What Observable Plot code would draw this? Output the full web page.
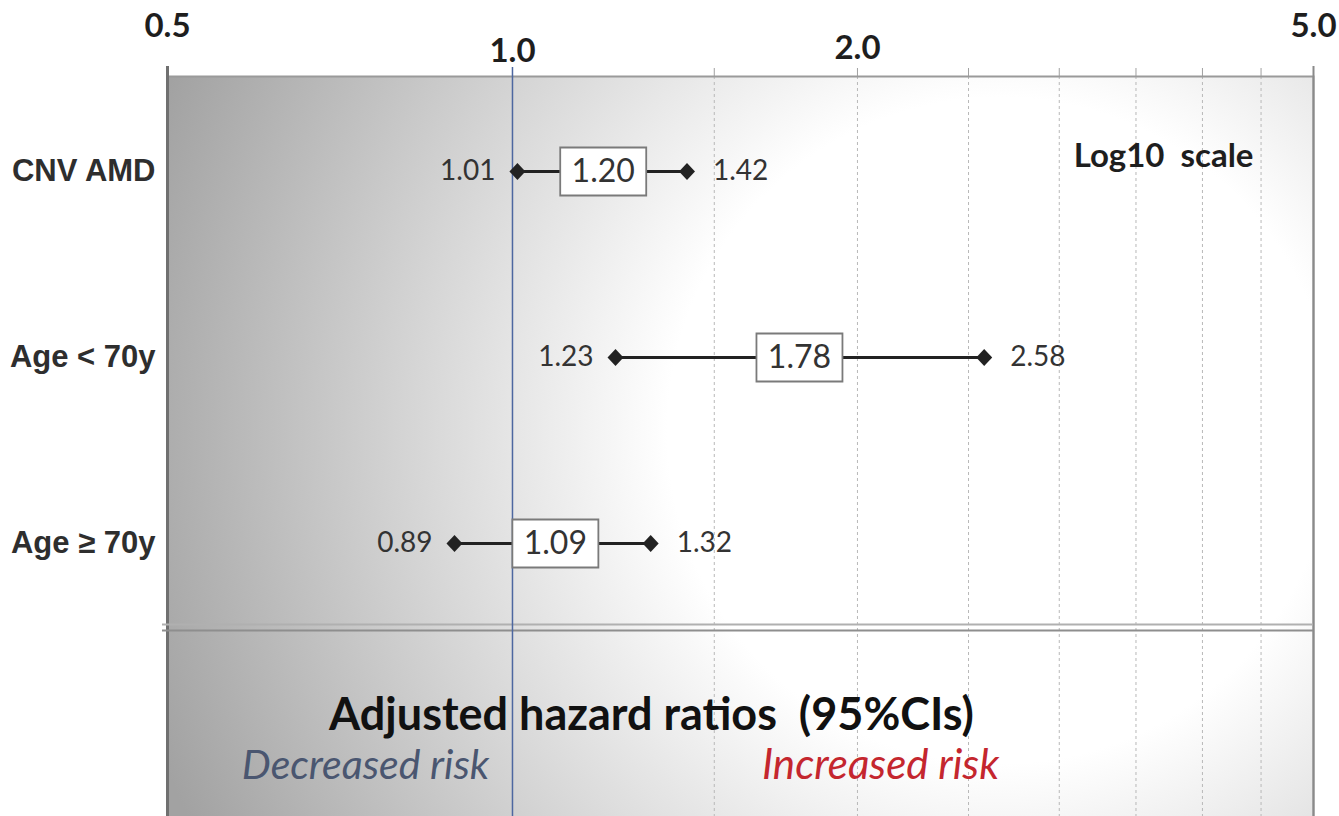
<!DOCTYPE html>
<html><head><meta charset="utf-8">
<script src="https://cdn.jsdelivr.net/npm/d3@7"></script>
<script src="https://cdn.jsdelivr.net/npm/@observablehq/plot@0.6"></script>
<style>
body{margin:0;background:#fff;}
svg text{white-space:pre;}
</style>
</head><body><div id="chart"></div>
<script>
// ---- data ----
const categories = ["CNV AMD", "Age < 70y", "Age ≥ 70y"];
const hazardRatios = [1.20, 1.78, 1.09];
const lowerCI = [1.01, 1.23, 0.89];
const upperCI = [1.42, 2.58, 1.32];
const tickValues = [0.5, 1.0, 2.0, 5.0];
const tickLabels = ["0.5", "1.0", "2.0", "5.0"];
const gridValues = [1.5, 2, 2.5, 3, 3.5, 4, 4.5];
const scaleNote = "Log10  scale";
const titleText = "Adjusted hazard ratios  (95%CIs)";
const leftNote = "Decreased risk";
const rightNote = "Increased risk";

const rows = categories.map((c, i) => ({cat: c, hr: hazardRatios[i], lo: lowerCI[i], hi: upperCI[i]}));
const ticks = tickValues.map((v, i) => ({v, label: tickLabels[i]}));

const calibri = "Lato, 'Open Sans', sans-serif";
const arial = "'Liberation Sans', Arial, sans-serif";
const boxSymbol = {
  draw(ctx) {
    ctx.moveTo(-43, -24); ctx.lineTo(43, -24); ctx.lineTo(43, 24); ctx.lineTo(-43, 24); ctx.closePath();
  }
};
const diamondSymbol = {
  draw(ctx) {
    ctx.moveTo(0, -8.5); ctx.lineTo(8, 0); ctx.lineTo(0, 8.5); ctx.lineTo(-8, 0); ctx.closePath();
  }
};
const tickDy = {"0.5": -50, "1.0": -25, "2.0": -28, "5.0": -50};

const plot = Plot.plot({
  width: 1339, height: 816,
  marginLeft: 167, marginRight: 26, marginTop: 76, marginBottom: 0,
  style: {background: "transparent", overflow: "visible"},
  x: {type: "log", domain: [0.5, 5]},
  y: {type: "point", domain: categories, range: [170, 543], padding: 0},
  marks: [
    Plot.frame({fill: "url(#bg)", stroke: "none"}),
    Plot.ruleX(gridValues, {stroke: "#b8b8b8", strokeDasharray: "3,3", strokeWidth: 1}),
    Plot.axisX({anchor: "top", ticks: gridValues.concat([0.5, 5]), tickSize: 9, tickFormat: () => "", stroke: "#a0a0a0", label: null}),
    Plot.frame({stroke: "#9a9a9a", strokeWidth: 2, insetBottom: -6}),
    Plot.ruleX([0.5], {stroke: "#707070", strokeWidth: 3, insetTop: -10}),
    Plot.ruleX([5], {stroke: "#8a8a8a", strokeWidth: 2, insetTop: -10}),
    Plot.ruleY([categories[2]], {dy: 81, stroke: "#b0b0b0", strokeWidth: 2, insetLeft: -5}),
    Plot.ruleY([categories[2]], {dy: 87, stroke: "#8e8e8e", strokeWidth: 2, insetLeft: -5}),
    Plot.ruleX([1], {stroke: "#4d67a0", strokeWidth: 1.5, insetTop: -9}),
    // top tick labels
    ...ticks.map(t => Plot.text([t], {x: "v", text: "label", frameAnchor: "top", dy: tickDy[t.label],
      lineAnchor: "middle", fontSize: 33, fontWeight: "bold", fontFamily: calibri, fill: "#1e1e1e"})),
    // y axis labels
    Plot.axisY({tickSize: 0, tickPadding: 12, fontSize: 31, fontWeight: "bold", fontFamily: arial, color: "#2e2e2e", label: null}),
    // confidence intervals
    Plot.ruleY(rows, {y: "cat", x1: "lo", x2: "hi", stroke: "#222", strokeWidth: 3}),
    Plot.dot(rows, {x: "lo", y: "cat", symbol: diamondSymbol, fill: "#222", stroke: "none"}),
    Plot.dot(rows, {x: "hi", y: "cat", symbol: diamondSymbol, fill: "#222", stroke: "none"}),
    Plot.dot(rows, {x: "hr", y: "cat", symbol: boxSymbol, fill: "white", stroke: "#7a7a7a", strokeWidth: 1.8}),
    Plot.text(rows, {x: "hr", y: "cat", text: d => d.hr.toFixed(2), fontSize: 32, fontFamily: calibri, fill: "#333"}),
    Plot.text(rows, {x: "lo", y: "cat", text: d => d.lo.toFixed(2), textAnchor: "end", dx: -22, fontSize: 28, fontFamily: calibri, fill: "#333"}),
    Plot.text(rows, {x: "hi", y: "cat", text: d => d.hi.toFixed(2), textAnchor: "start", dx: 26, fontSize: 28, fontFamily: calibri, fill: "#333"}),
    // annotations
    Plot.text([scaleNote], {frameAnchor: "top-right", dx: -60, dy: 80, textAnchor: "end", lineAnchor: "middle", fontSize: 33, fontWeight: "bold", fontFamily: calibri, fill: "#1e1e1e"}),
    Plot.text([titleText], {frameAnchor: "bottom", dx: -89, dy: -101, lineAnchor: "middle", fontSize: 45, fontWeight: "bold", fontFamily: calibri, fill: "#111"}),
    Plot.text([leftNote], {frameAnchor: "bottom", dx: -375, dy: -51, lineAnchor: "middle", fontSize: 41, fontStyle: "italic", fontFamily: calibri, fill: "#4a5670"}),
    Plot.text([rightNote], {frameAnchor: "bottom", dx: 140, dy: -51, lineAnchor: "middle", fontSize: 42, fontStyle: "italic", fontFamily: calibri, fill: "#c4262e"})
  ]
});

const svg = d3.select(plot);
const defs = svg.insert("defs", ":first-child");
const g = defs.append("radialGradient").attr("id", "bg")
  .attr("gradientUnits", "userSpaceOnUse")
  .attr("cx", 1000).attr("cy", 430).attr("r", 900);
g.append("stop").attr("offset", 0).attr("stop-color", "#ffffff");
g.append("stop").attr("offset", 0.37).attr("stop-color", "#ffffff");
g.append("stop").attr("offset", 0.65).attr("stop-color", "#d6d6d6");
g.append("stop").attr("offset", 1).attr("stop-color", "#a2a2a2");

document.getElementById("chart").appendChild(plot);
</script>
</body></html>
